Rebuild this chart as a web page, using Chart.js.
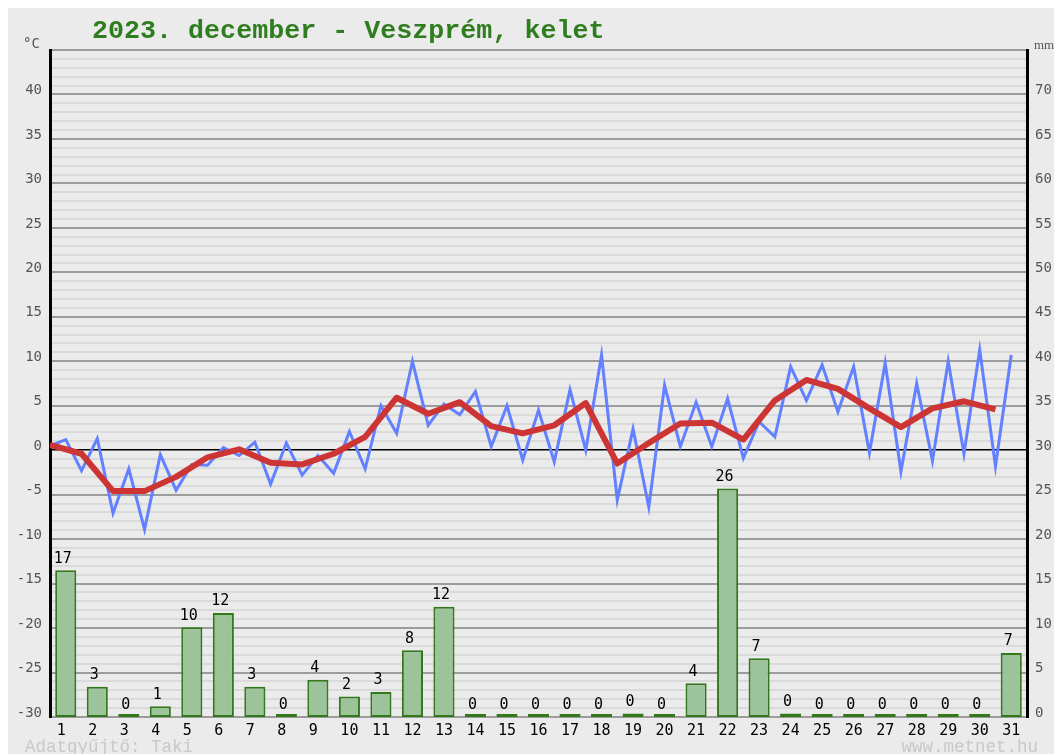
<!DOCTYPE html>
<html>
<head>
<meta charset="utf-8">
<script src="https://cdn.jsdelivr.net/npm/chart.js@4.4.0/dist/chart.umd.min.js"></script>
<style>
  html, body { margin: 0; padding: 0; background: #fff; }
  canvas { display: block; }
</style>
</head>
<body>
<canvas id="myChart" width="1054" height="754"></canvas>
<script>
const titleText = '2023. december - Veszprém, kelet';
const days = ['1','2','3','4','5','6','7','8','9','10','11','12','13','14','15','16',
              '17','18','19','20','21','22','23','24','25','26','27','28','29','30','31'];
// daily precipitation, mm
const rainMm = [16.5, 3.4, 0, 1.2, 10.1, 11.7, 3.4, 0, 4.2, 2.3, 2.8, 7.5, 12.4, 0, 0, 0,
                0, 0, 0.4, 0, 3.8, 25.7, 6.6, 0.4, 0, 0, 0, 0, 0, 0, 7.2];
// temperature readings, two per day (blue line)
const tempReadings = [0.5, 1.2, -2.3, 1.3, -7.1, -2.1, -8.9, -0.5, -4.5, -1.6, -1.7, 0.3,
                      -0.6, 0.9, -3.8, 0.8, -2.8, -0.6, -2.6, 2.1, -2.1, 5.0, 1.9, 10.0,
                      2.8, 5.2, 4.0, 6.6, 0.4, 5.0, -1.1, 4.5, -1.3, 6.8, 0.0, 10.7,
                      -5.6, 2.4, -6.4, 7.3, 0.4, 5.4, 0.4, 5.8, -0.9, 3.2, 1.5, 9.4,
                      5.6, 9.6, 4.3, 9.4, -0.3, 9.8, -2.4, 7.5, -1.2, 10.0, -0.4, 11.3,
                      -1.8, 10.7];
// daily mean temperature (red line)
const tempMean = [0.6, -0.4, -4.6, -4.6, -3.0, -0.8, 0.1, -1.4, -1.6, -0.4, 1.5, 5.9, 4.1,
                  5.4, 2.7, 1.9, 2.8, 5.3, -1.5, 0.8, 3.0, 3.1, 1.2, 5.6, 7.9, 6.9, 4.7,
                  2.6, 4.7, 5.5, 4.6];
const tempMin = -30, tempMax = 45;
const rainMin = 0, rainMax = 75;

Chart.defaults.font.family = 'DejaVu Sans Mono';

const decor = {
    id: 'decor',
    beforeDraw(chart) {
        const c = chart.ctx;
        c.save();
        c.fillStyle = '#ffffff';
        c.fillRect(0, 0, chart.width, chart.height);
        c.fillStyle = '#ebebeb';
        c.fillRect(8, 8, chart.width - 8, chart.height - 8);
        c.restore();
    },
    afterDatasetsDraw(chart) {
        // rain amounts above the bars
        const c = chart.ctx;
        const y2 = chart.scales.y2;
        const meta = chart.getDatasetMeta(0);
        c.save();
        c.font = '15px "DejaVu Sans Mono"';
        c.fillStyle = '#000';
        c.textAlign = 'center';
        c.textBaseline = 'bottom';
        meta.data.forEach(function (bar, i) {
            c.fillText(String(Math.round(rainMm[i])), bar.x - 3, y2.getPixelForValue(rainMm[i]) - 4);
        });
        c.restore();
    },
    afterDraw(chart) {
        const c = chart.ctx;
        c.save();
        c.textBaseline = 'alphabetic';
        c.fillStyle = '#2e7d1f';
        c.font = 'bold 26.7px "Liberation Mono"';
        c.textAlign = 'left';
        c.fillText(titleText, 92, 38);

        c.fillStyle = '#555';
        c.font = '14px "DejaVu Sans Mono"';
        c.fillText('°C', 23, 48);
        c.font = '13px "Liberation Serif"';
        c.fillText('mm', 1034, 49);

        c.fillStyle = '#c8c8c8';
        c.font = '17.5px "Liberation Mono"';
        c.fillText('Adatgyűjtő: Taki', 25, 752);
        c.textAlign = 'right';
        c.fillText('www.metnet.hu', 1038, 752);
        c.restore();
    }
};

const ctx = document.getElementById('myChart').getContext('2d');
const myChart = new Chart(ctx, {
    type: 'bar',
    data: {
        labels: days,
        datasets: [{
            label: 'Csapadék',
            data: rainMm,
            yAxisID: 'y2',
            xAxisID: 'x',
            backgroundColor: 'rgba(156, 195, 154, 1)',
            borderColor: 'rgba(52, 120, 28, 1)',
            borderWidth: 2,
            borderSkipped: false,
            grouped: false,
            barPercentage: 0.67,
            categoryPercentage: 1,
            minBarLength: 3,
            order: 3
        }, {
            type: 'line',
            label: 'Hőmérséklet',
            data: tempReadings.map(function (t, k) { return { x: (k - 1) / 2, y: t }; }),
            xAxisID: 'xh',
            yAxisID: 'y',
            borderColor: 'rgba(98, 128, 255, 1)',
            borderWidth: 3,
            pointRadius: 0,
            tension: 0,
            order: 2
        }, {
            type: 'line',
            label: 'Átlag',
            data: tempMean.map(function (t, j) { return { x: j - 0.5, y: t }; }),
            xAxisID: 'xh',
            yAxisID: 'y',
            borderColor: 'rgba(205, 52, 52, 1)',
            borderWidth: 6,
            borderJoinStyle: 'round',
            pointRadius: 0,
            tension: 0,
            order: 1
        }]
    },
    options: {
        responsive: false,
        animation: false,
        layout: { padding: { top: 50, left: 0, right: 0, bottom: 0 } },
        plugins: {
            legend: { display: false },
            tooltip: { enabled: false },
            title: { display: false }
        },
        scales: {
            x: {
                type: 'category',
                position: 'bottom',
                grid: { display: false, drawTicks: false },
                border: { display: false },
                ticks: {
                    color: '#000',
                    font: { size: 15 },
                    padding: 5,
                    autoSkip: false,
                    maxRotation: 0,
                    // one-digit days sit where the first digit of a two-digit day would
                    callback: function (v, i) { return days[i].length === 1 ? days[i] + ' ' : days[i]; }
                },
                afterFit: function (scale) { scale.height = 37; }
            },
            xh: {
                type: 'linear',
                display: false,
                offset: false,
                min: -0.5,
                max: 30.5
            },
            y: {
                position: 'left',
                min: tempMin,
                max: tempMax,
                border: { display: true, color: '#000', width: 3 },
                grid: {
                    drawTicks: false,
                    color: function (c) {
                        const v = c.tick.value;
                        if (v === 0) return '#000';
                        return v % 5 === 0 ? '#9c9c9c' : '#dadada';
                    },
                    lineWidth: function (c) {
                        const v = c.tick.value;
                        if (v === 0) return 1.5;
                        return 2;
                    }
                },
                ticks: {
                    stepSize: 1,
                    autoSkip: false,
                    color: '#555',
                    font: { size: 14 },
                    padding: 8,
                    labelOffset: -4,
                    callback: function (v) { return (v % 5 === 0 && v < tempMax) ? String(v) : ''; }
                },
                afterFit: function (scale) { scale.width = 50; }
            },
            y2: {
                position: 'right',
                min: rainMin,
                max: rainMax,
                border: { display: true, color: '#000', width: 3 },
                grid: { display: false, drawTicks: false },
                ticks: {
                    stepSize: 5,
                    autoSkip: false,
                    color: '#555',
                    font: { size: 14 },
                    padding: 8,
                    labelOffset: -4,
                    callback: function (v) { return v < rainMax ? String(v) : ''; }
                },
                afterFit: function (scale) { scale.width = 27; }
            }
        }
    },
    plugins: [decor]
});
</script>
</body>
</html>
